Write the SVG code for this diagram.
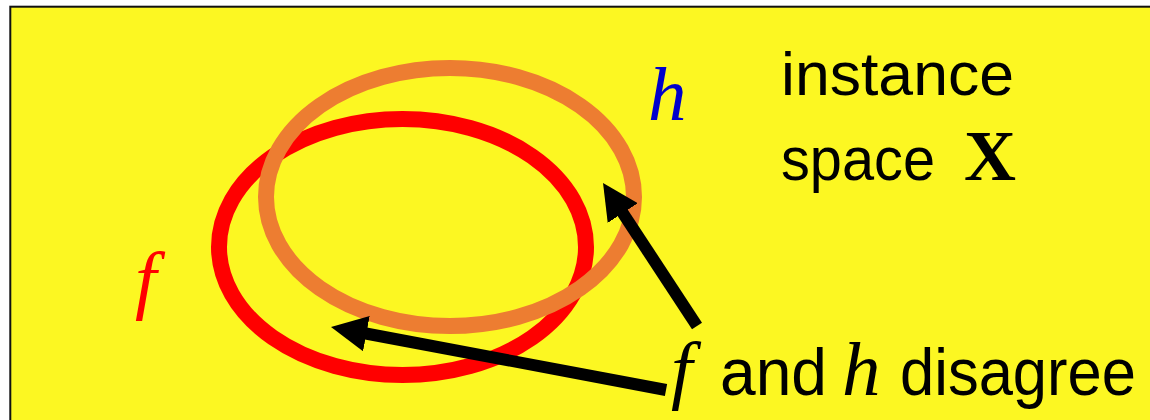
<svg xmlns="http://www.w3.org/2000/svg" width="1150" height="420" viewBox="0 0 1150 420">
  <style>
    .sans { font-family: "Liberation Sans", Arial, sans-serif; font-size: 61px; fill: #000; }
    .big { font-size: 67px; }
    .ital { font-family: "Liberation Serif", "Times New Roman", serif; font-style: italic; font-size: 77px; }
    .bold { font-family: "Liberation Serif", "Times New Roman", serif; font-weight: bold; font-size: 72px; fill: #000; }
    .ring { fill: none; stroke-width: 16; }
    .arrow { stroke: #000; stroke-width: 12; fill: none; marker-end: url(#head); }
  </style>
  <defs>
    <marker id="head" markerUnits="strokeWidth" markerWidth="3" markerHeight="3" refX="0.5" refY="1.5" orient="auto" viewBox="0 0 3 3">
      <path d="M0,0 L3,1.5 L0,3 z" fill="#000"/>
    </marker>
  </defs>
  <rect id="frame" x="10.3" y="6.7" width="1150" height="430" fill="#FCF722" stroke="#111" stroke-width="2"/>
  <g id="f-set">
    <ellipse class="ring" cx="402.5" cy="247" rx="183.5" ry="128" stroke="#FF0000"/>
  </g>
  <g id="h-set">
    <ellipse class="ring" cx="450" cy="197" rx="184" ry="129" stroke="#ED7D31"/>
  </g>
  <g id="connectors">
    <line class="arrow" x1="697" y1="326" x2="619.5" y2="208"/>
    <line class="arrow" x1="666" y1="390" x2="360.5" y2="332.5"/>
  </g>
  <g id="label-h">
    <text class="ital" x="648" y="120" fill="#0000CC">h</text>
  </g>
  <g id="label-f">
    <text class="ital" x="135" y="305" fill="#FF0000">f</text>
  </g>
  <g id="label-space">
    <text class="sans" x="781" y="95" textLength="233" lengthAdjust="spacingAndGlyphs">instance</text>
    <text class="sans" x="781" y="180" textLength="154" lengthAdjust="spacingAndGlyphs">space</text>
    <text class="bold" x="964" y="180">X</text>
  </g>
  <g id="label-disagree">
    <text class="ital" x="671" y="395" fill="#000">f</text>
    <text class="sans big" x="720" y="395" textLength="107" lengthAdjust="spacingAndGlyphs">and</text>
    <text class="ital" x="842" y="395" fill="#000">h</text>
    <text class="sans big" x="900" y="395" textLength="236" lengthAdjust="spacingAndGlyphs">disagree</text>
  </g>
</svg>
